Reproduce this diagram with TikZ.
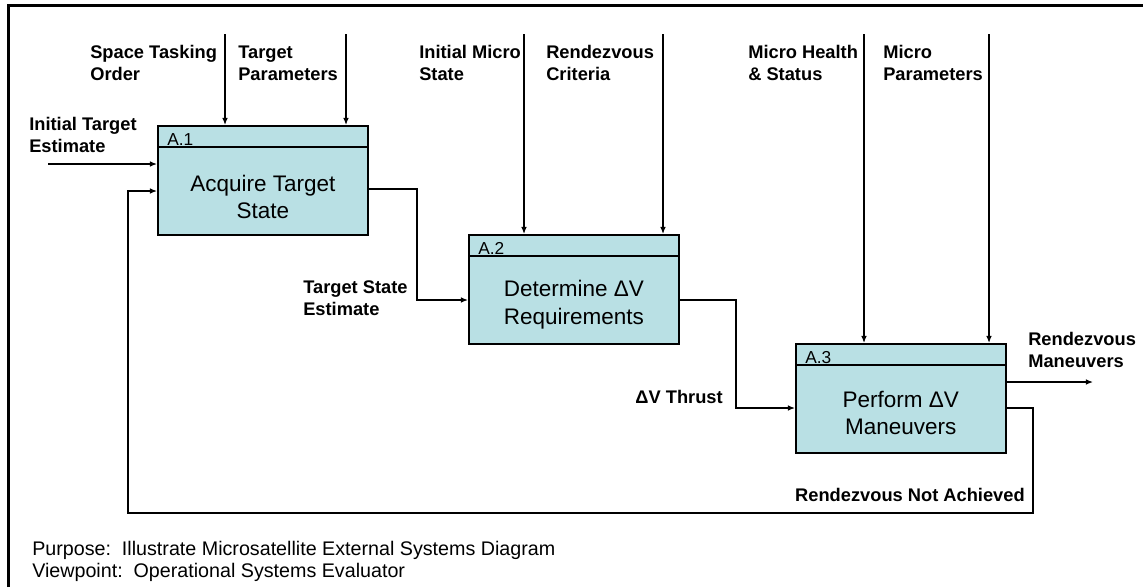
\documentclass[tikz,border=0pt]{standalone}
\usepackage{fontspec}
\setmainfont{Liberation Sans}
\usetikzlibrary{arrows.meta,calc,positioning}

\definecolor{boxfill}{RGB}{185,224,228}

\tikzset{
  fnbox/.style={draw, line width=1.1pt, fill=boxfill, anchor=north west,
    minimum width=5.25cm, minimum height=2.725cm, inner sep=0pt},
  fntext/.style={font=\fontsize{16}{19.5}\selectfont, align=center, inner sep=0pt},
  fnid/.style={font=\fontsize{12.3}{14}\selectfont, anchor=base west, inner sep=0pt},
  flow/.style={line width=0.9pt, -{Latex[length=5pt,width=4pt]}},
  wire/.style={line width=0.9pt},
  lbl/.style={font=\fontsize{13}{15.6}\selectfont\bfseries, align=left, inner sep=0pt},
  note/.style={font=\fontsize{14}{15.5}\selectfont, anchor=west, inner sep=0pt}
}

\begin{document}
\begin{tikzpicture}[x=0.025cm, y=-0.025cm]
		%%%%% FRAME %%%%%
		\useasboundingbox (0,0) rectangle (1143,587);
		\draw[line width=2.1pt] (8.5,587) -- (8.5,5.5) -- (1143,5.5);
		
		%%%%% FUNCTION BOXES %%%%%
		\node[fnbox] (A1) at (157,125) {};
		\node[fnbox] (A2) at (468,234) {};
		\node[fnbox] (A3) at (795,343) {};
		
		\foreach \b/\n in {A1/1, A2/2, A3/3} {
			\draw[line width=1.1pt] ([yshift=-0.55cm]\b.north west) -- ([yshift=-0.55cm]\b.north east);
			\node[fnid] (\b id) at ([xshift=0.25cm, yshift=-0.5cm]\b.north west) {A.\n};
		}
		
		\node[fntext] (A1t) at ([yshift=-0.42cm]A1.center) {Acquire Target\\State};
		\node[fntext] (A2t) at ([yshift=-0.38cm]A2.center) {Determine ΔV\\Requirements};
		\node[fntext] (A3t) at ([yshift=-0.36cm]A3.center) {Perform ΔV\\Maneuvers};
		
		%%%%% CONTROLS %%%%%
		\coordinate (sto) at (225,34);
		\coordinate (tp)  at (346,34);
		\coordinate (ims) at (524,34);
		\coordinate (rc)  at (663,34);
		\coordinate (mhs) at (864,34);
		\coordinate (mp)  at (989,34);
		\draw[flow] (sto) -- (sto |- A1.north);
		\draw[flow] (tp)  -- (tp  |- A1.north);
		\draw[flow] (ims) -- (ims |- A2.north);
		\draw[flow] (rc)  -- (rc  |- A2.north);
		\draw[flow] (mhs) -- (mhs |- A3.north);
		\draw[flow] (mp)  -- (mp  |- A3.north);
		
		\node[lbl, anchor=west] (stoL) at (90,63)  {Space Tasking\\Order};
		\node[lbl, anchor=west] (tpL)  at (238,63) {Target\\Parameters};
		\node[lbl, anchor=west] (imsL) at (419,63) {Initial Micro\\State};
		\node[lbl, anchor=west] (rcL)  at (546,63) {Rendezvous\\Criteria};
		\node[lbl, anchor=west] (mhsL) at (748,63) {Micro Health\\\& Status};
		\node[lbl, anchor=west] (mpL)  at (883,63) {Micro\\Parameters};
		
		%%%%% INPUT / OUTPUT %%%%%
		\coordinate (ite) at (48,164);
		\draw[flow] (ite) -- (A1.west |- ite);
		\node[lbl, anchor=west] (iteL) at (29,135) {Initial Target\\Estimate};
		
		\coordinate (rm) at (1093,382);
		\draw[flow] (A3.east |- rm) -- (rm);
		\node[lbl, anchor=west] (rmL) at (1028,350) {Rendezvous\\Maneuvers};
		
		%%%%% FLOWS BETWEEN BOXES %%%%%
		\draw[flow] (A1.east |- 0,189) -| (417,300) -- (A2.west |- 0,300);
		\node[lbl, anchor=west] (tseL) at (303,298) {Target State\\Estimate};
		
		\draw[flow] (A2.east |- 0,300) -| (736,408) -- (A3.west |- 0,408);
		\node[lbl, anchor=east] (dvtL) at (723,397) {ΔV Thrust};
		
		%%%%% FEEDBACK %%%%%
		\draw[flow] (A3.east |- 0,408) -| (1033,513) -| (128,191) -- (A1.west |- 0,191);
		\node[lbl, anchor=east] (rnaL) at (1025,495) {Rendezvous Not Achieved};
		
		%%%%% NOTES %%%%%
		\node[note] (purp) at (32,550) {Purpose:\ \ Illustrate Microsatellite External Systems Diagram};
		\node[note] (view) at (32,572) {Viewpoint:\ \ Operational Systems Evaluator};
		
		%%%%% END %%%%%
\end{tikzpicture}
\end{document}
